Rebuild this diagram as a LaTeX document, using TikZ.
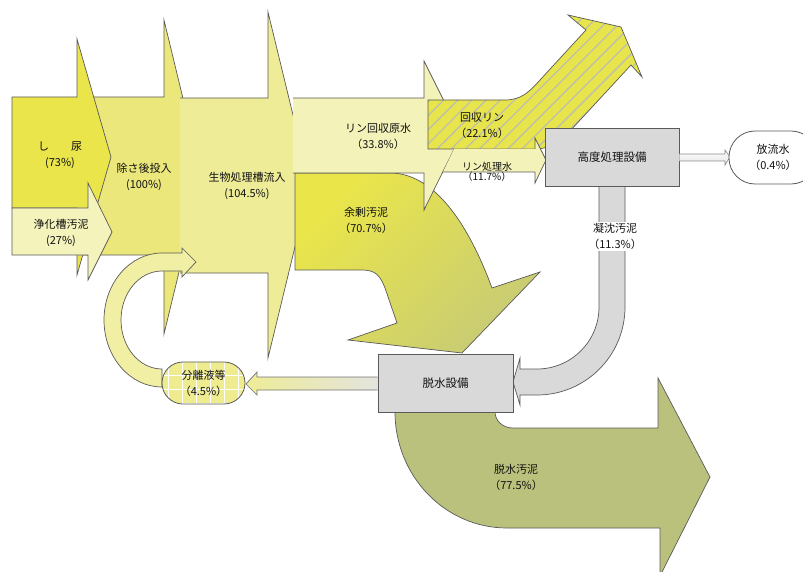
\documentclass[tikz,border=0pt]{standalone}
\usepackage{fontspec}
\setmainfont{Noto Sans CJK JP}
\usetikzlibrary{patterns.meta}
\definecolor{cShinyo}{HTML}{E9E54B}
\definecolor{cJoka}{HTML}{F4F3BC}
\definecolor{cJosa}{HTML}{EBE77B}
\definecolor{cSeibutsu}{HTML}{EEEC97}
\definecolor{cRinGen}{HTML}{F3F2B8}
\definecolor{cYojoA}{HTML}{EAE64A}
\definecolor{cYojoM}{HTML}{E0DE52}
\definecolor{cYojoB}{HTML}{C8CB74}
\definecolor{cKaishu}{HTML}{E8E44C}
\definecolor{cHatch}{HTML}{BDBFB0}
\definecolor{cBox}{HTML}{D9D9D9}
\definecolor{cEdge}{HTML}{5A5A5A}
\definecolor{cDassui}{HTML}{BAC17C}
\definecolor{cRecycle}{HTML}{F1EFA3}
\definecolor{cSep}{HTML}{EEEC8F}
\definecolor{cSepArrowR}{HTML}{E4E4DE}
\definecolor{cText}{HTML}{111111}
\begin{document}
\begin{tikzpicture}[x=1pt,y=-1pt,
  flowedge/.style={draw=cEdge, line width=0.7pt, line join=miter},
  lbl/.style={font=\fontsize{11}{16}\selectfont, align=center, text=cText, inner sep=0pt},
  procbox/.style={draw=cEdge, fill=cBox, line width=0.9pt, minimum width=134pt, minimum height=58pt, font=\fontsize{11.5}{14}\selectfont, text=cText, inner sep=0pt},
]
\useasboundingbox (0,0) rectangle (803,572);
\clip (0,0) rectangle (803,572);

% 除さ後投入
\fill[cJosa] (80,97) -- (164,97) -- (164,20) -- (202,177) -- (164,334) -- (164,255) -- (80,255) -- cycle;
\draw[flowedge] (80,97) -- (164,97) -- (164,20) -- (202,177) -- (164,334) -- (164,255) -- (80,255);

% 生物処理槽流入
\fill[cSeibutsu] (180,98) -- (268,98) -- (268,12) -- (310,185) -- (268,358) -- (268,273) -- (180,273) -- cycle;
\draw[flowedge] (180,98) -- (268,98) -- (268,12) -- (310,185) -- (268,358) -- (268,273) -- (180,273);

% し尿
\draw[flowedge, fill=cShinyo] (12,97) -- (77,97) -- (77,39) -- (111,157) -- (77,275) -- (77,208) -- (12,208) -- cycle;

% 浄化槽汚泥
\draw[flowedge, fill=cJoka] (12,208) -- (88,208) -- (88,183) -- (112,232) -- (88,280) -- (88,255) -- (12,255) -- cycle;

% 余剰汚泥
\draw[flowedge, top color=cYojoA, middle color=cYojoM, bottom color=cYojoB, shading angle=45]
  (295,173) -- (390,173) .. controls (430,173) and (465,215) .. (492,288)
  -- (540,272) -- (462,353) -- (348,340) -- (397,323) -- (385,288)
  .. controls (380,275) and (375,270) .. (362,270) -- (295,270) -- cycle;

% リン回収原水
\fill[cRinGen] (293,98) -- (424,98) -- (424,61) -- (461,135) -- (424,210) -- (424,173) -- (293,173) -- cycle;
\draw[flowedge] (293,98) -- (424,98) -- (424,61) -- (461,135) -- (424,210) -- (424,173) -- (293,173);

% 回収リン
\path[preaction={fill=cKaishu}, pattern={Lines[angle=45,distance=10pt,line width=1.3pt]}, pattern color=cHatch, draw=cEdge, line width=0.7pt, line join=miter]
  (428,100) -- (505,100) .. controls (522,100) and (530,91) .. (540,80)
  -- (586,30) -- (568,15) -- (621,27) -- (642,77) -- (631,65) -- (582,118)
  .. controls (568,133) and (556,149) .. (535,149) -- (428,149) -- cycle;

% リン処理水
\fill[cRinGen] (454,149) -- (535,149) -- (535,138) -- (546,160) -- (535,183) -- (535,172) -- (443,172) -- cycle;
\draw[flowedge] (443,172) -- (535,172) -- (535,183) -- (546,160) -- (535,138) -- (535,149);

% 凝沈汚泥
\draw[flowedge, fill=cBox] (625,186) -- (625,307) arc[start angle=0, end angle=90, radius=88]
  -- (520,395) -- (520,405) -- (513,382) -- (520,358) -- (520,369) -- (537,369)
  arc[start angle=90, end angle=0, radius=62] -- (599,186) -- cycle;

% 高度処理設備
\node[procbox] (kodo) at (612,157) {高度処理設備};

% 放流水 arrow and node
\draw[draw=cEdge!70, line width=0.6pt, top color=white, bottom color=cBox!70]
  (kodo.east |- 0,154) -- (725,154) -- (725,150) -- (730,157) -- (725,165) -- (725,161) -- (kodo.east |- 0,161);
\node[draw=cEdge, fill=white, line width=0.8pt, rounded corners=26pt, minimum width=88pt, minimum height=53pt, lbl] (horyu) at (773,157.5) {放流水\\（0.4\%）};

% 脱水汚泥
\draw[flowedge, fill=cDassui] (395,412) .. controls (395,476) and (445,528) .. (507,528)
  -- (660,528) -- (660,576) -- (710,477) -- (658,378) -- (658,428) -- (513,428)
  .. controls (502,428) and (495,420) .. (495,412) -- cycle;

% 脱水設備
\node[procbox, minimum width=135pt] (dassui) at (445.5,383) {脱水設備};

% 分離液等 arrow
\draw[draw=cEdge!85, line width=0.7pt, left color=cSeibutsu, right color=cSepArrowR]
  (dassui.west |- 0,377) -- (257,377) -- (257,372) -- (246,384) -- (257,395) -- (257,390) -- (dassui.west |- 0,390);

% recycle arrow
\draw[flowedge, fill=cRecycle] (162,387) arc[start angle=90, end angle=270, x radius=58, y radius=67]
  -- (182,253) -- (182,248) -- (196,262) -- (182,277) -- (182,271) -- (162,271)
  arc[start angle=270, end angle=90, x radius=41, y radius=49] -- cycle;

% 分離液等 node
\node[preaction={fill=cSep}, pattern={Hatch[distance=14pt,line width=1pt]}, pattern color=white, draw=cEdge, line width=0.8pt, rounded corners=21pt, minimum width=83pt, minimum height=42pt, lbl] (sep) at (203.5,383) {分離液等\\（4.5\%）};

% labels
\node[lbl] (tShinyo) at (60,155) {し　　尿\\(73\%)};
\node[lbl] (tJoka) at (61,232.5) {浄化槽汚泥\\(27\%)};
\node[lbl] (tJosa) at (144,176.5) {除さ後投入\\(100\%)};
\node[lbl] (tSeibutsu) at (247,186) {生物処理槽流入\\(104.5\%)};
\node[lbl] (tRinGen) at (378,136) {リン回収原水\\（33.8\%）};
\node[lbl] (tKaishu) at (482,125) {回収リン\\（22.1\%）};
\node[lbl, font=\fontsize{10}{10.5}\selectfont] (tRinShori) at (487,172) {リン処理水\\（11.7\%）};
\node[lbl] (tYojo) at (366,220) {余剰汚泥\\（70.7\%）};
\node[lbl, fill=white, inner sep=1.5pt] (tGyochin) at (615,236.5) {凝沈汚泥\\（11.3\%）};
\node[lbl] (tDassuiO) at (516,477.5) {脱水汚泥\\（77.5\%）};
\end{tikzpicture}
\end{document}
